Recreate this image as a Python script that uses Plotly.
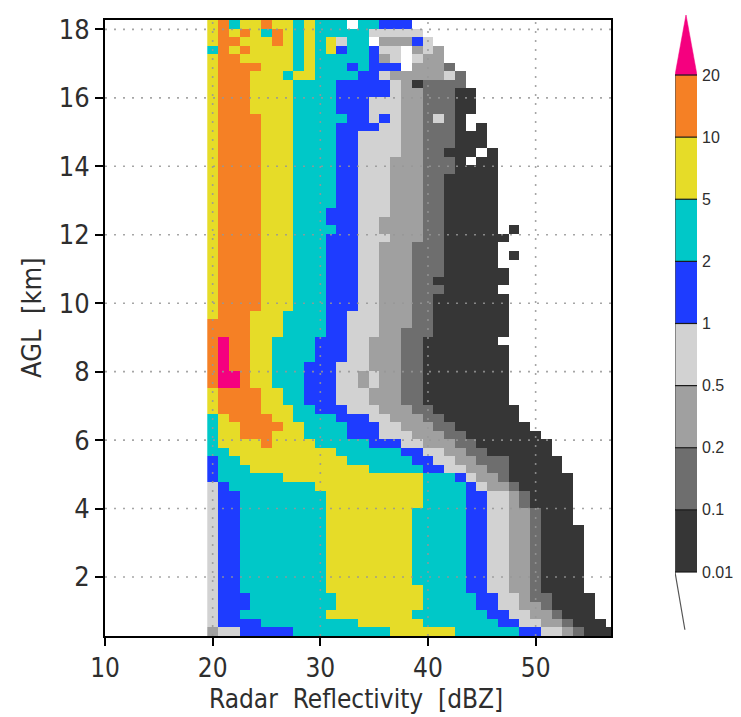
import numpy as np
import plotly.graph_objects as go

# ---------------- data ----------------
# reflectivity bins (dBZ), 1 dBZ wide, centred on integers
dbz_bins = list(range(20, 58))
# altitude bins (km AGL), 0.25 km deep, listed from top to bottom
height_bins = [round(18.15 - 0.25 * j, 3) for j in range(72)]

# frequency contour levels (%) and their colorbar labels
levels = [0.01, 0.1, 0.2, 0.5, 1, 2, 5, 10, 20]
level_labels = ["0.01", "0.1", "0.2", "0.5", "1", "2", "5", "10", "20"]
class_colors = ["#363636", "#6e6e6e", "#a0a0a0", "#d2d2d2", "#1e3cff",
                "#00c8c8", "#e6dc28", "#f58025", "#f5007f"]
# representative frequency (%) of each shaded class (0 = no data)
class_value = [np.nan, 0.03, 0.15, 0.35, 0.7, 1.5, 3.5, 7.0, 15.0, 25.0]

# shaded class of every cell, one string per altitude (top -> bottom),
# first character = 20 dBZ; spaces only group equal classes
rows = [
    "7 8 6 77 8 77 6 7 666 0 66 555",
    "7 8 7 8 7 6 8 7 6 7 66666 44444",
    "7 88 777 8 7 6 7 6 7 4 66 0 333 5 4",
    "6 8 7 8 7777 6 7 6 7 5 66 5 44 0 3 4 3",
    "7 88 77777 6 7 66666 5 3 4 0 4 33",
    "7 8888 777 6 7 666 5 6 555 0 333 2",
    "7 888 777 6 77 6666 55 4 33333 4 2",
    "7 888 7777 6666 55555 4 3 1 2222",
    "7 888 7777 6666 55555 4 33 222 11",
    "7 888 7777 6666 555 444 33 222 11",
    "7 888 7777 6666 555 444 33 222 11",
    "7 8888 777 66666 55 4 5 4 33 2 4 2 1",
    "7 8888 777 6666 5555 44 33 222 1 0 1",
    "7 8888 777 6666 55 4444 33 222 111",
    "7 8888 777 6666 55 4444 33 222 111",
    "7 8888 777 6666 55 4444 33 22 111 0 1",
    "7 8888 777 6666 55 444 333 222 1 0 11",
    "7 8888 777 6666 55 444 333 222 1111",
    "7 8888 777 6666 55 444 333 22 11111",
    "7 8888 777 6666 55 444 333 22 11111",
    "7 8888 777 6666 55 444 333 22 11111",
    "7 8888 777 6666 55 444 333 22 11111",
    "7 8888 777 666 555 444 333 22 11111",
    "7 8888 777 666 555 44 3333 22 11111",
    "7 8888 777 6666 55 44 3333 22 11111 0 1",
    "7 8888 777 666 555 444 333 22 111111",
    "7 8888 777 666 555 44 333 222 11111",
    "7 8888 777 666 555 44 333 222 11111 0 1",
    "7 8888 777 666 555 44 333 222 11111",
    "7 8888 777 666 555 44 333 222 111111",
    "7 8888 777 666 555 44 333 22 1111111",
    "7 8888 777 666 555 44 333 222 11111 0",
    "7 8888 777 666 555 44 333 22 1111111",
    "7 8888 777 666 555 44 333 22 1111111",
    "7 888 777 6666 55 444 333 22 1111111",
    "8 888 777 6666 55 444 333 22 1111111",
    "8 888 777 6666 55 444 33 222 1111111",
    "8 9 88 77 6666 555 44 333 22 1111111",
    "8 9 88 77 6666 555 44 333 22 11111111",
    "8 9 88 77 6666 555 44 333 22 11111111",
    "8 9 88 77 666 555 444 333 22 11111111",
    "8 99 8 77 666 555 44 3 4 33 22 11111111",
    "8 99 8 77 666 555 44 3 4 33 22 11111111",
    "7 8888 77 66 555 444 333 22 11111111",
    "7 8888 77 66 555 444 333 22 11111111",
    "7 8888 777 66 555 444 333 22 11111111",
    "6 7 8888 77 6666 555 44 333 22 1111111",
    "6 77 8888 77 6666 555 44 333 22 1111111",
    "6 77 888 777 6666 555 444 333 22 1111111",
    "6 7777 8 7777 66666 555 44 333 22 1111111",
    "66 7777777777 666666 55 44 33 22 111111",
    "5 66 7777777777 666666 55 44 33 222 11111",
    "5 666 77777777777 66666 55 44 33 22 11111",
    "5 666666 7777777777777 666 5 4 33 2 111111",
    "4 5 66666666 7777777777 6666 5 4 33 2 11111",
    "4 55 66666666 777777777 6666 55 44 3 2 1111",
    "4 55 66666666 777777777 6666 55 44 3 2 1111",
    "4 55 66666666 77777777 66666 55 44 33 2 111",
    "4 55 66666666 77777777 66666 55 44 33 2 111",
    "4 55 66666666 77777777 66666 55 44 33 2 1111",
    "4 55 66666666 77777777 66666 55 44 33 2 1111",
    "4 55 66666666 77777777 66666 55 44 33 2 1111",
    "4 55 66666666 77777777 66666 55 44 33 2 1111",
    "4 55 66666666 77777777 66666 55 44 33 2 1111",
    "4 55 66666666 77777777 66666 55 44 33 2 1111",
    "4 55 66666666 77777777 66666 55 44 33 2 1111",
    "4 55 66666666 777777777 6666 55 44 33 2 1111",
    "4 555 66666666 77777777 66666 55 44 3 22 1111",
    "4 555 66666666 77777777 66666 55 44 33 2 1111",
    "4 55 66666666 77777777 6666666 55 44 33 2 111",
    "4 5555 666666666 777777 6666666 55 44 33 2 111",
    "3 44 55555 666666666 777777 666666 55 44 3 2 111",
]

# ---------------- build the frequency table ----------------
freq = np.full((len(height_bins), len(dbz_bins)), np.nan)
for j, r in enumerate(rows):
    s = r.replace(" ", "")
    for i, ch in enumerate(s[:len(dbz_bins)]):
        freq[j, i] = class_value[int(ch)]

cls = np.digitize(np.nan_to_num(freq, nan=0.0), levels).astype(float)
cls[np.isnan(freq) | (cls == 0)] = np.nan

ncls = len(class_colors)
colorscale = []
for k, c in enumerate(class_colors):
    colorscale.append([k / ncls, c])
    colorscale.append([(k + 1) / ncls, c])

FONT = "Liberation Sans Narrow, Arial Narrow, DejaVu Sans Condensed, sans-serif"
TXT = "#2e2e2e"

fig = go.Figure()
fig.add_trace(go.Heatmap(
    x=dbz_bins, y=height_bins, z=cls,
    colorscale=colorscale, zmin=0.5, zmax=ncls + 0.5,
    showscale=False, hoverinfo="skip", xaxis="x", yaxis="y"))

# ---------------- hand-drawn colour key ----------------
key_classes = list(range(1, len(levels)))          # 8 boxes 0.01 .. 20
nk = len(key_classes)
fig.add_trace(go.Heatmap(
    x=[0], y=[k - 0.5 for k in key_classes], z=[[k] for k in key_classes],
    colorscale=colorscale, zmin=0.5, zmax=ncls + 0.5,
    showscale=False, hoverinfo="skip", xaxis="x2", yaxis="y2"))
# over-range triangle
fig.add_trace(go.Scatter(
    x=[-0.5, 0.5, 0.0, -0.5], y=[nk, nk, nk + 0.97, nk],
    fill="toself", fillcolor=class_colors[-1], mode="lines",
    line=dict(color=class_colors[-1], width=0.5),
    hoverinfo="skip", showlegend=False, xaxis="x2", yaxis="y2"))
# under-range tail line + left border
fig.add_trace(go.Scatter(
    x=[-0.05, -0.5, -0.5], y=[-0.93, 0, nk],
    mode="lines", line=dict(color="#555555", width=1.2),
    hoverinfo="skip", showlegend=False, xaxis="x2", yaxis="y2"))

shapes = []
for k in range(len(levels)):
    shapes.append(dict(type="line", xref="x2", yref="y2", x0=-0.5, x1=0.5, y0=k, y1=k,
                       line=dict(color="#1a1a1a", width=1.2), layer="above"))

# dotted grid drawn on top of the shading
xt = [10, 20, 30, 40, 50]
yt = list(range(2, 19, 2))
XR = [10, 57]
YR = [0.275, 18.275]
for v in xt[1:]:
    shapes.append(dict(type="line", xref="x", yref="y", x0=v, x1=v, y0=YR[0], y1=YR[1],
                       line=dict(color="rgba(150,150,150,0.85)", width=1.6, dash="2px,7px"),
                       layer="above"))
for v in yt:
    shapes.append(dict(type="line", xref="x", yref="y", x0=XR[0], x1=XR[1], y0=v, y1=v,
                       line=dict(color="rgba(150,150,150,0.85)", width=1.6, dash="2px,7px"),
                       layer="above"))

# the page body adds an 8 px margin, so the figure is drawn 8 px smaller
OFF = 8
W, H = 741 - OFF, 717 - OFF
ml, mr, mt, mb = 97, 20, 2, 81
pw, ph = W - ml - mr, H - mt - mb

def px_x(p):          # page pixel -> paper fraction
    return (p - OFF - ml) / pw

def px_y(p):
    return (H - mb - (p - OFF)) / ph

fig.update_layout(
    width=W, height=H,
    margin=dict(l=ml, r=mr, t=mt, b=mb, autoexpand=False),
    paper_bgcolor="white", plot_bgcolor="white",
    showlegend=False,
    shapes=shapes,
    xaxis=dict(domain=[0, px_x(611)], range=XR, tickvals=xt,
               ticks="outside", ticklen=8, tickwidth=1.5, tickcolor="#000",
               showline=True, linewidth=2, linecolor="#000", mirror=True,
               showgrid=False, zeroline=False,
               tickfont=dict(family=FONT, size=26, color=TXT)),
    yaxis=dict(domain=[0, px_y(20)], range=YR, tickvals=yt,
               ticks="outside", ticklen=8, tickwidth=1.5, tickcolor="#000",
               showline=True, linewidth=2, linecolor="#000", mirror=True,
               showgrid=False, zeroline=False,
               tickfont=dict(family=FONT, size=27, color=TXT)),
    xaxis2=dict(domain=[px_x(675), px_x(697)], range=[-0.5, 0.5], visible=False,
                anchor="y2"),
    yaxis2=dict(domain=[px_y(630), px_y(15)], range=[-0.934, 8.966], anchor="x2",
                side="right", tickvals=list(range(len(levels))), ticktext=level_labels,
                ticks="", showline=False, showgrid=False, zeroline=False,
                ticklabelstandoff=4,
                tickfont=dict(family="Liberation Sans, Arial, sans-serif", size=16, color=TXT)),
    annotations=[
        dict(text="AGL  [km]", xref="paper", yref="paper", x=px_x(32), y=px_y(318),
             showarrow=False, textangle=-90, xanchor="center", yanchor="middle",
             font=dict(family=FONT, size=27, color=TXT)),
        dict(text="Radar  Reflectivity  [dBZ]", xref="paper", yref="paper",
             x=px_x(356), y=px_y(699), showarrow=False, xanchor="center", yanchor="middle",
             font=dict(family=FONT, size=26, color=TXT)),
    ],
)

fig.write_html("out.html")
